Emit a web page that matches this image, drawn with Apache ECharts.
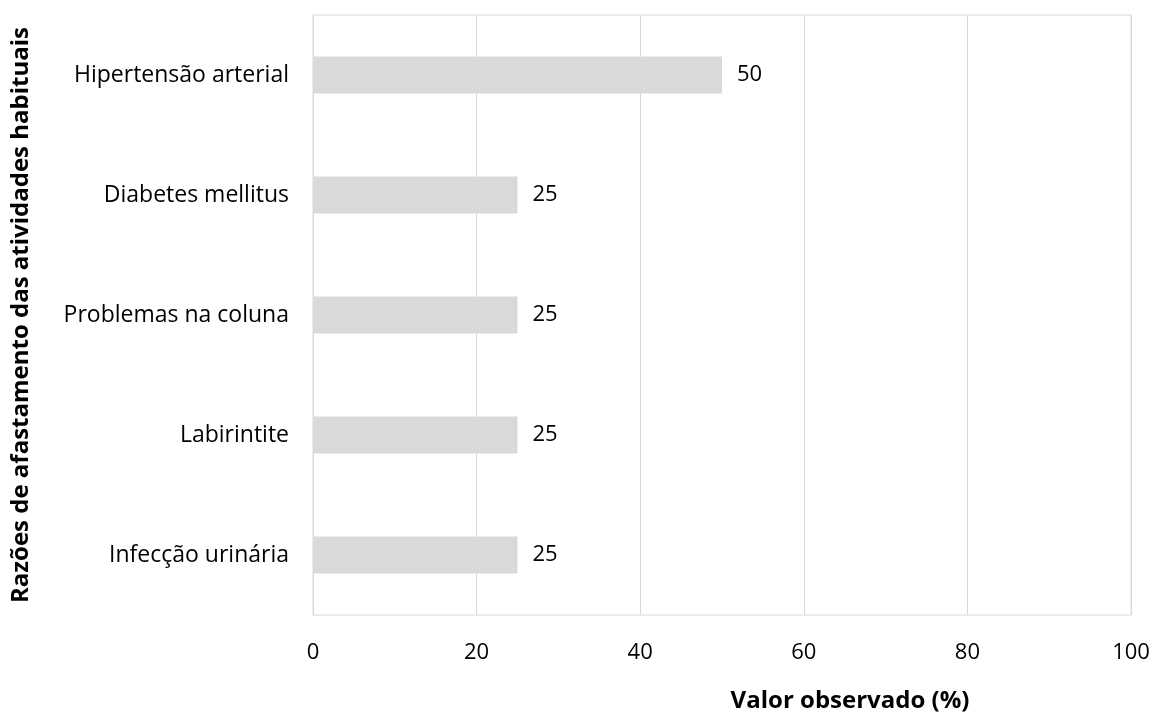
<!DOCTYPE html>
<html><head><meta charset="utf-8">
<script src="https://cdn.jsdelivr.net/npm/echarts@6/dist/echarts.min.js"></script>
<style>html,body{margin:0;padding:0;background:#fff}#c{width:1153px;height:713px}</style>
</head><body><div id="c"></div>
<script>
const categories = ['Infecção urinária','Labirintite','Problemas na coluna','Diabetes mellitus','Hipertensão arterial'];
const values = [25, 25, 25, 25, 50];
const xTicks = [0, 20, 40, 60, 80, 100];
const xTitle = 'Valor observado (%)';
const yTitle = 'Razões de afastamento das atividades habituais';
const FONT = 'Open Sans';
const chart = echarts.init(document.getElementById('c'));
chart.setOption({
  animation: false,
  grid: {left: 313, top: 15, width: 818, height: 600, show: true, borderColor: '#d9d9d9', borderWidth: 1, containLabel: false, outerBoundsMode: 'none'},
  xAxis: {
    type: 'value', min: xTicks[0], max: xTicks[xTicks.length-1], interval: 20,
    axisLine: {show: false}, axisTick: {show: false},
    splitLine: {show: true, lineStyle: {color: '#d9d9d9', width: 1}},
    axisLabel: {color: '#000', fontSize: 22, fontFamily: FONT, margin: 27},
    name: xTitle, nameLocation: 'middle', nameGap: 74,
    nameTextStyle: {color: '#000', fontSize: 24, fontWeight: 'bold', fontFamily: FONT, padding: [0, 0, 0, 256]}
  },
  yAxis: {
    type: 'category', data: categories,
    axisLine: {show: true, lineStyle: {color: '#d9d9d9'}}, axisTick: {show: false},
    axisLabel: {color: '#000', fontSize: 23, fontFamily: FONT, margin: 24},
    name: yTitle, nameLocation: 'middle', nameGap: 280, nameRotate: 90,
    nameTextStyle: {color: '#000', fontSize: 24, fontWeight: 'bold', fontFamily: FONT}
  },
  series: [{
    type: 'bar', data: values, barWidth: 37,
    itemStyle: {color: '#d9d9d9'},
    label: {show: true, position: 'right', distance: 15, color: '#000', fontSize: 22, fontFamily: FONT}
  }]
});
</script></body></html>
